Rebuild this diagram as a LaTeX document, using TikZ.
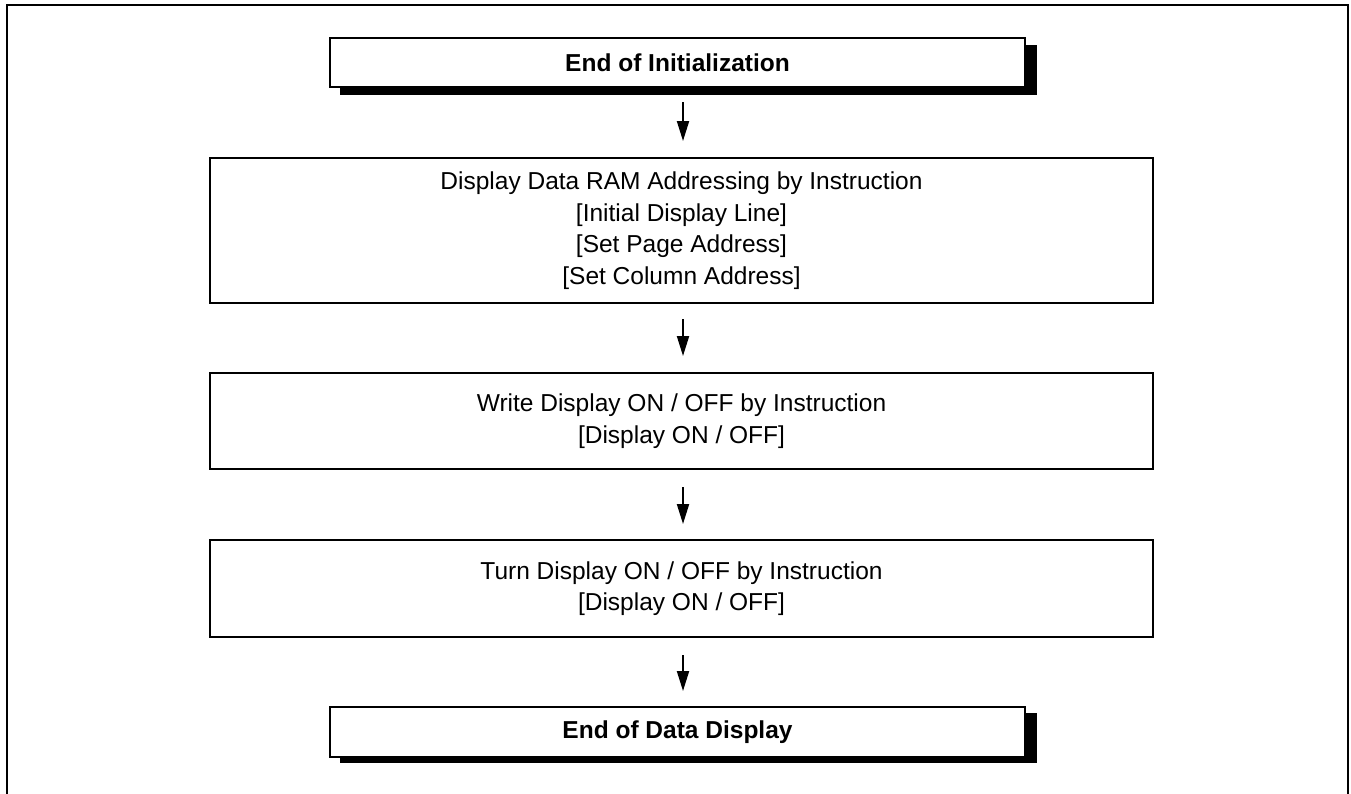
\documentclass[tikz,border=0pt]{standalone}
\usepackage{fontspec}
\setmainfont{Liberation Sans}
\usetikzlibrary{arrows.meta}
\begin{document}
\begin{tikzpicture}[x=1pt,y=-1pt,
  stepbox/.style={draw, line width=2pt, fill=white, align=center, inner sep=0pt,
    font=\fontsize{24.5}{31.5}\selectfont},
  termbox/.style={stepbox, font=\fontsize{24.5}{31.5}\selectfont\bfseries},
  shadowbox/.style={fill=black, draw=none},
  arr/.style={line width=2pt, -{Triangle[length=20pt,width=12pt]}}
]
\useasboundingbox (0,0) rectangle (1351,793);
\clip (0,0) rectangle (1351,793);
\draw[line width=2.5pt] (7,5) rectangle (1348,820);
\coordinate (ax) at (683,0);
% top terminal
\fill[shadowbox] (340,45) rectangle (1037,95);
\node[termbox, minimum width=695pt, minimum height=49pt] (a) at (677.5,62.5) {End of Initialization};
\node[stepbox, minimum width=943pt, minimum height=145pt] (b) at (681.5,230.5)
  {Display Data RAM Addressing by Instruction\\{}[Initial Display Line]\\{}[Set Page Address]\\{}[Set Column Address]};
\node[stepbox, minimum width=943pt, minimum height=96pt] (c) at (681.5,421)
  {Write Display ON / OFF by Instruction\\{}[Display ON / OFF]};
\node[stepbox, minimum width=943pt, minimum height=97pt] (d) at (681.5,588.5)
  {Turn Display ON / OFF by Instruction\\{}[Display ON / OFF]};
\fill[shadowbox] (340,713) rectangle (1037,763);
\node[termbox, minimum width=695pt, minimum height=50pt] (e) at (677.5,732) {End of Data Display};
\draw[arr] ([yshift=-14pt]a.south -| ax) -- ([yshift=16pt]b.north -| ax);
\draw[arr] ([yshift=-15pt]b.south -| ax) -- ([yshift=16pt]c.north -| ax);
\draw[arr] ([yshift=-17pt]c.south -| ax) -- ([yshift=15pt]d.north -| ax);
\draw[arr] ([yshift=-17pt]d.south -| ax) -- ([yshift=15pt]e.north -| ax);
\end{tikzpicture}
\end{document}
